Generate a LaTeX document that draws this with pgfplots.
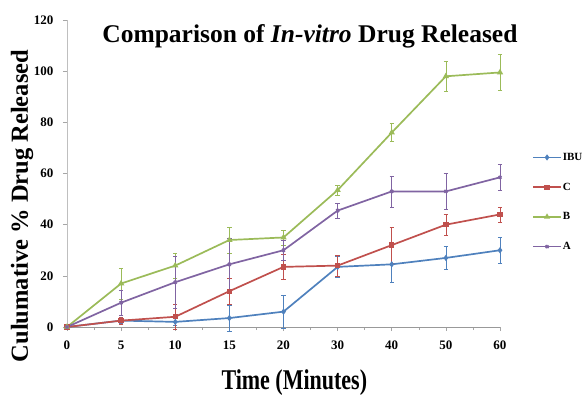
\documentclass[border=0pt]{standalone}
\usepackage{pgfplots}
\pgfplotsset{compat=1.18}
\usepackage{fontspec}
\setmainfont{Liberation Serif}
\definecolor{cIBU}{HTML}{4F81BD}
\definecolor{cC}{HTML}{C0504D}
\definecolor{cB}{HTML}{9BBB59}
\definecolor{cA}{HTML}{8064A2}
\begin{document}
\begin{tikzpicture}
\useasboundingbox (-67pt,-67pt) rectangle (517pt,327pt);
\begin{axis}[
  at={(0,0)}, anchor=south west,
  scale only axis, width=433pt, height=307pt,
  xmin=0, xmax=8, ymin=0, ymax=120,
  axis lines*=left,
  x axis line style={draw=gray!80},
  y axis line style={draw=gray!50},
  xtick={0,...,8}, xticklabels={0,5,10,15,20,30,40,50,60},
  minor x tick num=1,
  ytick={0,20,...,120},
  tick align=outside,
  major tick length=4pt, minor tick length=3pt,
  tick style={gray!70, line width=0.5pt},
  /pgf/number format/assume math mode=true,
  ticklabel style={font=\bfseries\fontsize{13}{14}\selectfont},
  xticklabel style={yshift=-6pt},
  yticklabel style={xshift=-6pt},
  clip=false,
  every axis plot/.append style={line width=1.7pt},
  error bars/y dir=both, error bars/y explicit,
  error bars/error bar style={line width=0.5pt},
  error bars/error mark options={rotate=90, mark size=2.2pt, line width=0.5pt},
  legend style={at={(1.074,0.407)}, anchor=west, draw=none, fill=none,
    inner sep=0pt, row sep=19pt,
    font=\bfseries\fontsize{11}{11}\selectfont,
    nodes={inner sep=1pt}},
  legend cell align=left,
  legend image code/.code={\draw[mark repeat=2,mark phase=2,line width=1.6pt] plot coordinates {(0pt,0pt)(14pt,0pt)(28pt,0pt)};},
]
\addplot[color=cIBU, mark=diamond*, mark size=1.8pt, mark options={solid}] coordinates {
 (0,0) +- (0,0) (1,2.5) +- (0,1) (2,2) +- (0,1.5) (3,3.5) +- (0,5) (4,6) +- (0,6.5)
 (5,23.5) +- (0,4) (6,24.5) +- (0,7) (7,27) +- (0,4.5) (8,30) +- (0,5)};
\addlegendentry{IBU}
\addplot[color=cC, mark=square*, mark size=1.8pt] coordinates {
 (0,0) +- (0,0) (1,2.5) +- (0,1.5) (2,4) +- (0,5) (3,14) +- (0,5) (4,23.5) +- (0,5)
 (5,24) +- (0,4) (6,32) +- (0,7) (7,40) +- (0,4) (8,44) +- (0,3)};
\addlegendentry{C}
\addplot[color=cB, mark=triangle*, mark size=2pt] coordinates {
 (0,0) +- (0,0) (1,17) +- (0,6) (2,24) +- (0,5) (3,34) +- (0,5) (4,35) +- (0,3)
 (5,53.5) +- (0,2) (6,76) +- (0,3.5) (7,98) +- (0,6) (8,99.5) +- (0,7)};
\addlegendentry{B}
\addplot[color=cA, mark=x, mark size=2pt] coordinates {
 (0,0) +- (0,0) (1,9.5) +- (0,5) (2,17.5) +- (0,10) (3,24.5) +- (0,10) (4,30) +- (0,4)
 (5,45.5) +- (0,3) (6,53) +- (0,6) (7,53) +- (0,7) (8,58.5) +- (0,5)};
\addlegendentry{A}
\node[anchor=base, font=\bfseries\fontsize{25.5}{26}\selectfont] at (rel axis cs:0.561,0.928)
  {Comparison of \textit{In-vitro} Drug Released};
\node[anchor=base, rotate=90, font=\bfseries\fontsize{24.5}{25}\selectfont] at ([xshift=-39pt]rel axis cs:0,0.394)
  {Culumative \% Drug Released};
\node[anchor=base, font=\bfseries\fontsize{22}{22}\selectfont] at ([yshift=-62pt]rel axis cs:0.525,0)
  {\scalebox{1}[1.3]{Time (Minutes)}};
\end{axis}
\end{tikzpicture}
\end{document}
